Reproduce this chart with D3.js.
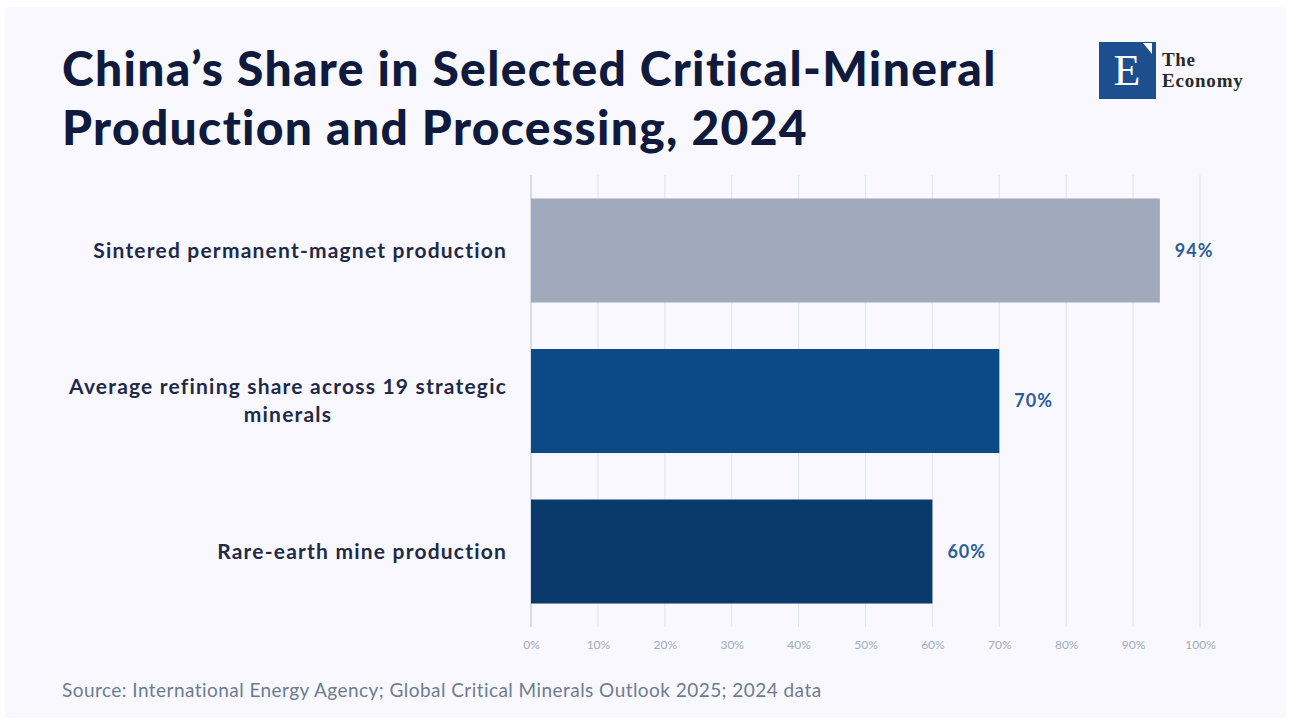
<!DOCTYPE html>
<html>
<head>
<meta charset="utf-8">
<script src="https://cdn.jsdelivr.net/npm/d3@7"></script>
<style>
  html, body { margin: 0; padding: 0; background: #ffffff; }
  svg { display: block; }
  text { font-variant-ligatures: none; }
</style>
</head>
<body>
<svg id="chart" width="1291" height="725"></svg>
<script>
// China's share of selected critical-mineral stages, 2024 (percent)
const categories = [
  "Sintered permanent-magnet production",
  "Average refining share across 19 strategic minerals",
  "Rare-earth mine production"
];
const labelLines = [
  ["Sintered permanent-magnet production"],
  ["Average refining share across 19 strategic", "minerals"],
  ["Rare-earth mine production"]
];
const shares = [94, 70, 60];
const barColors = ["#a1a9bd", "#0c4a87", "#0a396b"];
const tickValues = [0, 10, 20, 30, 40, 50, 60, 70, 80, 90, 100];
const titleLines = ["China\u2019s Share in Selected Critical-Mineral", "Production and Processing, 2024"];
const sourceText = "Source: International Energy Agency; Global Critical Minerals Outlook 2025; 2024 data";

const svg = d3.select("#chart");
const W = 1291, H = 725;
const sans = "Lato, 'Open Sans', sans-serif";
const serif = "'Liberation Serif', 'DejaVu Serif', serif";

// card background
svg.append("rect")
  .attr("x", 5).attr("y", 7).attr("width", W - 10).attr("height", H - 14)
  .attr("rx", 4).attr("fill", "#f8f8fe");

// title
const title = svg.append("text")
  .attr("font-family", sans)
  .attr("font-weight", 900)
  .attr("font-size", 48)
  .attr("letter-spacing", 1.3)
  .attr("fill", "#0f1a3c");
titleLines.forEach((t, i) => {
  title.append("tspan").attr("x", 62).attr("y", 86 + i * 59).text(t);
});

// logo
const logo = svg.append("g").attr("transform", "translate(1099,42)");
logo.append("rect").attr("width", 57).attr("height", 57).attr("fill", "#1d4f8e");
logo.append("path").attr("d", "M44,1 L53,1 L53,12 Z").attr("fill", "#ffffff");
logo.append("text").attr("x", 28).attr("y", 43)
  .attr("text-anchor", "middle")
  .attr("font-family", serif)
  .attr("font-size", 44).attr("fill", "#ffffff").text("E");
logo.append("text").attr("x", 63).attr("y", 24)
  .attr("font-family", serif)
  .attr("font-weight", 700)
  .attr("font-size", 19)
  .attr("letter-spacing", 0.6)
  .attr("fill", "#2a2a2a").text("The");
logo.append("text").attr("x", 63).attr("y", 45)
  .attr("font-family", serif)
  .attr("font-weight", 700)
  .attr("font-size", 19)
  .attr("letter-spacing", 0.8)
  .attr("fill", "#2a2a2a").text("Economy");

// scales
const gridTop = 175, gridBottom = 627;
const x = d3.scaleLinear().domain([0, 100]).range([531, 1200]);
const y = d3.scaleBand().domain(categories).range([gridTop, gridBottom])
  .paddingInner(0.309).paddingOuter(0.156);

// gridlines
svg.append("g").selectAll("line")
  .data(tickValues)
  .join("line")
  .attr("x1", d => x(d)).attr("x2", d => x(d))
  .attr("y1", gridTop).attr("y2", gridBottom)
  .attr("stroke", d => d === 0 ? "#d9dbe2" : "#e4e6ee")
  .attr("stroke-width", d => d === 0 ? 2 : 1.2);

// x axis tick labels
const xAxis = d3.axisBottom(x)
  .tickValues(tickValues)
  .tickFormat(d => d + "%")
  .tickSize(0)
  .tickPadding(0);
const axisG = svg.append("g")
  .attr("transform", `translate(0,${gridBottom + 13})`)
  .call(xAxis);
axisG.select(".domain").remove();
axisG.selectAll("text")
  .attr("font-family", sans)
  .attr("font-size", 12)
  .attr("fill", "#a3abc0");

// bars
svg.append("g").selectAll("rect")
  .data(categories)
  .join("rect")
  .attr("x", x(0))
  .attr("y", d => y(d))
  .attr("width", (d, i) => x(shares[i]) - x(0))
  .attr("height", y.bandwidth())
  .attr("fill", (d, i) => barColors[i]);

// value labels
svg.append("g").selectAll("text")
  .data(categories)
  .join("text")
  .attr("x", (d, i) => x(shares[i]) + 15)
  .attr("y", d => y(d) + y.bandwidth() / 2)
  .attr("dy", "0.35em")
  .attr("font-family", sans)
  .attr("font-weight", 700)
  .attr("font-size", 18)
  .attr("letter-spacing", 1)
  .attr("fill", "#2d5d98")
  .text((d, i) => shares[i] + "%");

// category labels: block right-aligned, lines centred within the block
const labelRight = 507;
categories.forEach((c, i) => {
  const lines = labelLines[i];
  const g = svg.append("g");
  const texts = lines.map(ln => g.append("text")
    .attr("font-family", sans)
    .attr("font-weight", 700)
    .attr("font-size", 21)
    .attr("letter-spacing", 1.2)
    .attr("fill", "#1f2a4a")
    .attr("text-anchor", "middle")
    .text(ln));
  const widths = texts.map(t => t.node().getComputedTextLength());
  const maxW = d3.max(widths);
  const cx = labelRight - maxW / 2;
  const lh = 28;
  const cy = y(c) + y.bandwidth() / 2;
  texts.forEach((t, j) => {
    t.attr("x", cx)
     .attr("y", cy + (j - (lines.length - 1) / 2) * lh)
     .attr("dy", "0.35em");
  });
});

// source note
svg.append("text")
  .attr("x", 62).attr("y", 697)
  .attr("font-family", sans)
  .attr("font-size", 19)
  .attr("letter-spacing", 0.45)
  .attr("fill", "#6e7b92")
  .text(sourceText);
</script>
</body>
</html>
